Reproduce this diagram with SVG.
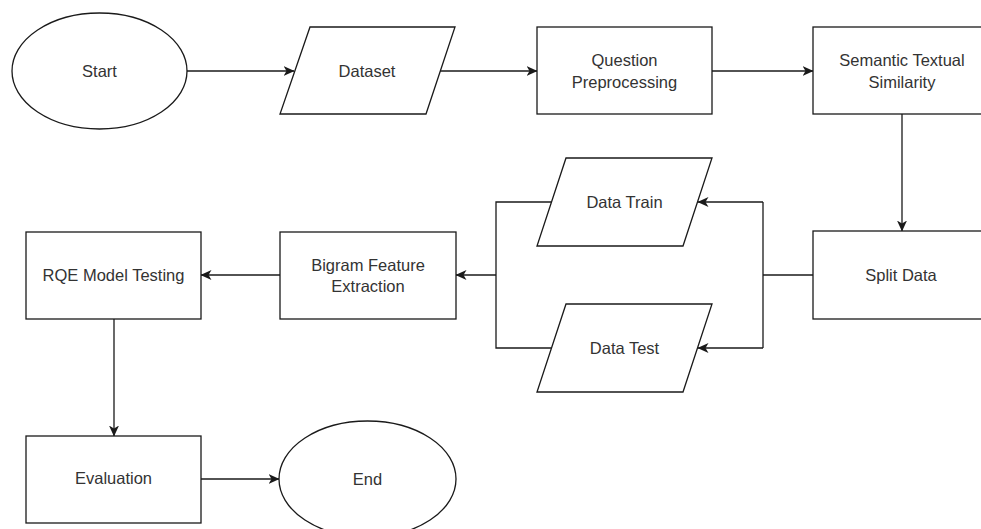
<svg xmlns="http://www.w3.org/2000/svg" width="981" height="529" viewBox="0 0 981 529">
  <defs>
    <style>
      .shape { fill: #ffffff; stroke: #1a1a1a; stroke-width: 1.3; }
      .edge { fill: none; stroke: #1a1a1a; stroke-width: 1.3; }
      .label { font-family: "Liberation Sans", Arial, sans-serif; font-size: 16.5px; fill: #333333; text-anchor: middle; }
    </style>
    <marker id="arrow" viewBox="0 0 11 10" refX="10.5" refY="5" markerWidth="11" markerHeight="10" markerUnits="userSpaceOnUse" orient="auto">
      <path d="M0,0 L11,5 L0,10 L3,5 Z" fill="#1a1a1a"/>
    </marker>
  </defs>
  <rect width="981" height="529" fill="#ffffff"/>

  <g id="connectors">
    <path class="edge" d="M187,71 H294" marker-end="url(#arrow)"/>
    <path class="edge" d="M440,71 H537" marker-end="url(#arrow)"/>
    <path class="edge" d="M712,71 H813" marker-end="url(#arrow)"/>
    <path class="edge" d="M902,114 V231" marker-end="url(#arrow)"/>
    <path class="edge" d="M813,275 H763"/>
    <path class="edge" d="M763,202 V348"/>
    <path class="edge" d="M763,202 H698" marker-end="url(#arrow)"/>
    <path class="edge" d="M763,348 H698" marker-end="url(#arrow)"/>
    <path class="edge" d="M551,202 H496 V348 H551"/>
    <path class="edge" d="M496,275 H456" marker-end="url(#arrow)"/>
    <path class="edge" d="M280,275 H201" marker-end="url(#arrow)"/>
    <path class="edge" d="M114,319 V436" marker-end="url(#arrow)"/>
    <path class="edge" d="M201,479 H279" marker-end="url(#arrow)"/>
  </g>

  <g id="start">
    <ellipse class="shape" cx="99.5" cy="71" rx="87.5" ry="58"/>
    <text class="label" x="99.5" y="77">Start</text>
  </g>

  <g id="dataset">
    <polygon class="shape" points="310,27 455,27 426,114 280,114"/>
    <text class="label" x="367" y="77">Dataset</text>
  </g>

  <g id="question-preprocessing">
    <rect class="shape" x="537" y="27" width="175" height="87"/>
    <text class="label" x="624.5" y="66">Question</text>
    <text class="label" x="624.5" y="88">Preprocessing</text>
  </g>

  <g id="semantic-textual-similarity">
    <rect class="shape" x="813" y="27" width="178" height="87"/>
    <text class="label" x="902" y="66">Semantic Textual</text>
    <text class="label" x="902" y="88">Similarity</text>
  </g>

  <g id="split-data">
    <rect class="shape" x="813" y="231" width="178" height="88"/>
    <text class="label" x="901" y="281">Split Data</text>
  </g>

  <g id="data-train">
    <polygon class="shape" points="566,158 712,158 683,246 537,246"/>
    <text class="label" x="624.5" y="208">Data Train</text>
  </g>

  <g id="data-test">
    <polygon class="shape" points="566,304 712,304 683,392 537,392"/>
    <text class="label" x="624.5" y="354">Data Test</text>
  </g>

  <g id="bigram-feature-extraction">
    <rect class="shape" x="280" y="232" width="176" height="87"/>
    <text class="label" x="368" y="271">Bigram Feature</text>
    <text class="label" x="368" y="292">Extraction</text>
  </g>

  <g id="rqe-model-testing">
    <rect class="shape" x="26" y="232" width="175" height="87"/>
    <text class="label" x="113.5" y="281">RQE Model Testing</text>
  </g>

  <g id="evaluation">
    <rect class="shape" x="26" y="436" width="175" height="87"/>
    <text class="label" x="113.5" y="484">Evaluation</text>
  </g>

  <g id="end">
    <ellipse class="shape" cx="367.5" cy="479" rx="88.5" ry="58"/>
    <text class="label" x="367.5" y="485">End</text>
  </g>
</svg>
